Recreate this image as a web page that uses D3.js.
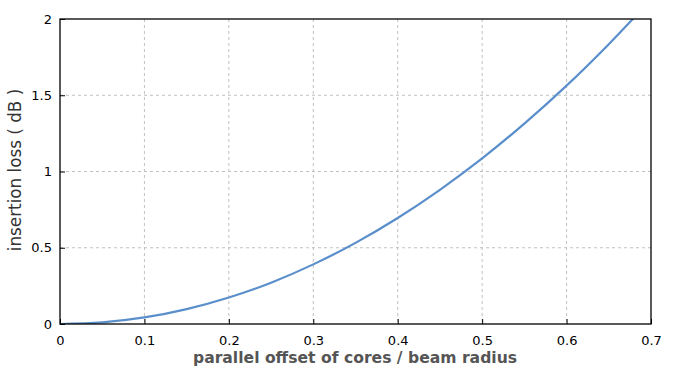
<!DOCTYPE html>
<html>
<head>
<meta charset="utf-8">
<script src="https://cdn.jsdelivr.net/npm/d3@7"></script>
<style>
  body { margin: 0; background: #fff; }
  svg { display: block; font-family: Verdana, "DejaVu Sans", sans-serif; }
  .grid line { stroke: #c0c0c0; stroke-dasharray: 3,3; }
</style>
</head>
<body>
<svg id="chart" width="674" height="368"></svg>
<script>
// offset / beam radius vs insertion loss (dB)
const offsets = [0, 0.05, 0.1, 0.15, 0.2, 0.25, 0.3, 0.35, 0.4, 0.45, 0.5, 0.55, 0.6, 0.65, 0.7];
const losses = [0, 0.011, 0.043, 0.098, 0.174, 0.271, 0.391, 0.532, 0.695, 0.88, 1.086, 1.314, 1.563, 1.835, 2.128];
const xTicks = [0, 0.1, 0.2, 0.3, 0.4, 0.5, 0.6, 0.7];
const yTicks = [0, 0.5, 1, 1.5, 2];

const svg = d3.select("#chart");
const margin = { left: 60, top: 19, right: 23, bottom: 44 };
const width = 674 - margin.left - margin.right,
    height = 368 - margin.top - margin.bottom;

const x = d3.scaleLinear().domain([0, 0.7]).range([0, width]);
const y = d3.scaleLinear().domain([0, 2]).range([height, 0]);

const g = svg.append("g").attr("transform", `translate(${margin.left},${margin.top})`);

// grid
g.append("g").attr("class", "grid")
    .selectAll("line.v").data(xTicks.slice(1, -1)).enter().append("line")
    .attr("x1", d => x(d)).attr("x2", d => x(d))
    .attr("y1", 0).attr("y2", height);
g.append("g").attr("class", "grid")
    .selectAll("line.h").data(yTicks.slice(1, -1)).enter().append("line")
    .attr("x1", 0).attr("x2", width)
    .attr("y1", d => y(d)).attr("y2", d => y(d));

g.append("defs").append("clipPath").attr("id", "clip")
    .append("rect").attr("width", width).attr("height", height);

const line = d3.line().x((d, i) => x(offsets[i])).y(d => y(d)).curve(d3.curveMonotoneX);
g.append("path")
    .datum(losses)
    .attr("clip-path", "url(#clip)")
    .attr("fill", "none")
    .attr("stroke", "#5b8fcb")
    .attr("stroke-width", 2.2)
    .attr("d", line);

// frame
g.append("rect").attr("width", width).attr("height", height)
    .attr("fill", "none").attr("stroke", "#000").attr("stroke-width", 1.3);

const xAxis = g.append("g").attr("transform", `translate(0,${height})`)
    .call(d3.axisBottom(x).tickValues(xTicks).tickSize(-5).tickPadding(12).tickFormat(d3.format("~g")));
const yAxis = g.append("g")
    .call(d3.axisLeft(y).tickValues(yTicks).tickSize(-5).tickPadding(8).tickFormat(d3.format("~g")));
[xAxis, yAxis].forEach(a => {
    a.select(".domain").remove();
    a.selectAll(".tick line").attr("stroke", "#000");
    a.selectAll("text").attr("font-size", 13).attr("fill", "#000")
        .attr("font-family", "Verdana, 'DejaVu Sans', sans-serif");
});

svg.append("text")
    .attr("x", 355).attr("y", 363)
    .attr("text-anchor", "middle")
    .attr("font-size", 15.6).attr("font-weight", "bold").attr("fill", "#555")
    .text("parallel offset of cores / beam radius");

svg.append("text")
    .attr("transform", `translate(21,170) rotate(-90)`)
    .attr("text-anchor", "middle")
    .attr("font-size", 16.8).attr("fill", "#333")
    .text("insertion loss ( dB )");
</script>
</body>
</html>
